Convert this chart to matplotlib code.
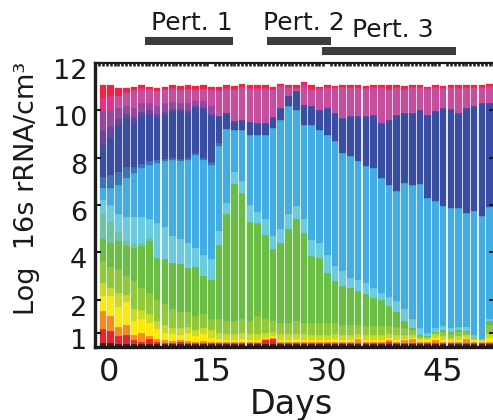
import matplotlib
matplotlib.use('Agg')
import matplotlib.pyplot as plt
import matplotlib.transforms as mtransforms
from matplotlib.ticker import MultipleLocator
import numpy as np

plt.rcParams['font.family'] = ['DejaVu Sans']

# ---------------- data ----------------
days = list(range(1, 52))   # one sample per bar

# top of each taxon layer (cumulative, Log 16s rRNA/cm^3); 0 = layer absent
top_base = [0.15,0.15,0.12,0.12,0.12,0.12,0.12,0.12,0.12,0.12,0.12,0.12,0.12,0.12,0.12,0.12,0.12,0.12,0.12,0.12,
            0.12,0.12,0.12,0.12,0.12,0.12,0.12,0.12,0.12,0.12,0.12,0.12,0.12,0.12,0.12,0.12,0.12,0.12,0.12,0.12,
            0.12,0.12,0.12,0.12,0.12,0.12,0.12,0.12,0.12,0.12,0.12]
top_red = [0.75,0.68,0.45,0.50,0.30,0.22,0.32,0.20,0.18,0.18,0.22,0.18,0.16,0.16,0.16,0.16,0.16,0.16,0.16,0.18,
           0.16,0.30,0.35,0.16,0.16,0.16,0.16,0.16,0.16,0.16,0.16,0.16,0.16,0.16,0.16,0.16,0.16,0.20,0.16,0.16,
           0.16,0.16,0.16,0.16,0.16,0.16,0.16,0.16,0.16,0.16,0.16]
top_orange = [1.52,1.30,0.85,0.95,0.50,0.60,0.45,0.35,0.28,0.25,0.28,0.25,0.22,0.25,0.22,0.20,0.22,0.20,0.20,0.22,
              0.22,0.32,0.40,0.20,0.20,0.22,0.20,0.20,0.20,0.20,0.20,0.22,0.20,0.35,0.22,0.20,0.20,0.30,0.22,0.30,
              0.35,0.22,0.20,0.30,0.22,0.20,0.22,0.35,0.22,0.20,0.22]
top_yellow = [2.15,2.15,1.70,1.90,1.10,1.20,1.00,0.75,0.60,0.55,0.50,0.60,0.45,0.55,0.40,0.35,0.30,0.30,0.35,0.30,
              0.30,0.40,0.45,0.30,0.30,0.35,0.30,0.30,0.30,0.30,0.32,0.30,0.30,0.40,0.30,0.30,0.30,0.38,0.30,0.35,
              0.40,0.30,0.28,0.40,0.30,0.28,0.30,0.40,0.30,0.28,0.40]
top_ygreen = [2.70,2.50,2.30,2.20,1.60,1.55,1.40,1.10,0.95,0.80,0.80,0.85,0.70,0.80,0.70,0.60,0.55,0.55,0.60,0.55,
              0.55,0.60,0.65,0.55,0.55,0.55,0.55,0.50,0.50,0.50,0.55,0.50,0.50,0.55,0.50,0.50,0.50,0.55,0.50,0.50,
              0.50,0.40,0.40,0.55,0.45,0.40,0.45,0.50,0.35,0.30,0.55]
top_lgreen = [3.63,3.40,3.30,3.00,2.80,2.50,2.30,2.00,1.80,1.60,1.50,1.50,1.30,1.40,1.20,1.20,1.10,1.10,1.20,1.10,
              1.30,1.20,1.10,1.00,1.00,1.10,1.00,1.00,1.00,1.00,1.00,0.95,0.95,0.95,0.90,0.90,0.90,0.90,0.85,0.80,
              0.70,0.45,0.42,0.60,0.65,0.55,0.65,0.60,0.38,0.30,0.95]
top_green = [4.55,4.40,4.47,4.26,4.19,4.26,4.47,3.77,3.70,3.56,3.49,3.35,3.40,2.98,2.85,4.33,5.60,6.90,6.50,5.30,
             5.25,4.75,4.12,4.40,5.00,5.39,4.82,3.84,3.77,3.14,2.78,2.57,2.50,2.36,2.22,2.08,2.00,1.75,1.50,1.10,
             0.80,0.50,0.45,0.65,0.72,0.62,0.72,0.68,0.40,0.30,1.10]
top_teal = [5.60,5.30,4.85,4.50,4.40,4.40,4.60,0,0,0,0,0,0,0,0,0,0,0,0,0,
            0,0,0,0,0,0,0,0,0,0,0,0,0,0,0,0,0,0,0,0,
            0,0,0,0,0,0,0,0,0,0,0]
top_cyan = [6.23,6.00,5.60,5.50,5.50,5.50,5.40,5.25,5.05,4.70,4.55,4.40,4.20,3.90,3.70,4.90,6.10,7.40,7.00,6.00,
            5.70,5.40,4.70,5.00,5.60,5.95,5.39,4.54,4.40,3.90,3.42,3.20,2.93,2.85,2.70,2.50,2.30,2.10,1.95,1.60,
            1.20,0.80,0.60,0.80,0.90,0.80,0.85,0.85,0.50,0.35,1.20]
top_sky = [6.72,6.72,6.86,7.14,7.36,7.57,7.71,7.78,7.85,7.92,7.85,7.90,8.10,7.90,7.70,8.50,9.20,9.15,9.15,8.95,
           8.95,8.95,9.25,9.60,10.20,10.00,9.40,9.40,9.18,8.97,8.69,8.20,8.06,7.85,7.64,7.57,7.14,6.86,6.58,6.93,
           6.86,6.90,6.30,6.16,5.95,5.88,5.88,5.67,5.75,5.53,5.90]
top_mblue = [7.20,7.25,7.40,7.60,7.60,7.75,7.85,7.90,7.95,8.00,7.95,8.00,8.20,8.00,7.80,8.60,0,0,0,0,
             0,0,0,0,0,0,0,0,0,0,0,0,0,0,0,0,0,0,0,0,
             0,0,0,0,0,0,0,0,0,0,0]
top_dblue = [8.55,8.83,9.40,9.68,9.47,9.75,9.82,9.68,9.82,9.96,9.96,9.89,10.10,10.05,9.75,9.75,9.90,9.55,9.60,9.50,
             9.45,9.45,9.70,10.10,10.60,10.80,10.24,10.20,10.03,10.10,9.89,9.68,9.75,9.75,9.75,9.80,9.47,9.60,9.80,9.89,
             9.89,10.03,9.82,9.96,10.10,10.05,9.89,10.10,10.17,10.31,10.31]
top_violet = [9.11,9.30,9.65,9.85,9.70,9.95,10.00,9.85,9.95,10.05,10.05,10.00,10.20,10.15,9.85,0,0,0,0,0,
              0,0,0,0,0,0,0,0,0,0,0,0,0,0,0,0,0,0,0,0,
              0,0,0,0,0,0,0,0,0,0,0]
top_purple = [9.96,10.00,10.10,10.20,10.10,10.30,10.30,10.20,10.30,10.35,10.30,10.30,10.40,10.40,10.20,0,0,0,0,0,
              0,0,0,0,0,0,0,0,0,0,0,0,0,0,0,0,0,0,0,0,
              0,0,0,0,0,0,0,0,0,0,0]
top_magenta = [0,0,10.60,10.75,10.85,10.85,10.90,10.80,10.85,10.90,10.85,10.90,10.85,10.90,10.85,10.80,10.90,10.85,10.95,10.90,
               10.90,10.90,10.85,11.00,10.95,10.90,10.95,10.85,10.90,10.95,10.95,10.95,10.95,10.95,10.90,10.95,10.95,10.85,10.95,10.85,
               10.95,10.95,10.90,10.95,10.90,10.95,10.90,10.95,10.95,10.95,11.00]
top_pink = [10.52,10.60,10.62,10.78,10.85,10.95,10.92,10.82,10.90,10.95,10.88,10.92,10.90,10.92,10.90,10.85,10.95,10.92,11.00,10.95,
            10.95,10.95,10.90,11.05,11.00,10.95,11.10,10.90,10.95,10.97,10.97,10.97,10.97,10.97,10.95,10.97,10.97,10.90,11.00,10.90,
            10.97,10.97,10.95,10.97,10.95,10.97,10.95,10.97,10.97,10.97,11.02]
top_redtop = [11.05,11.05,10.95,10.95,11.00,11.05,11.00,10.95,11.00,11.05,11.02,11.05,11.02,11.05,11.00,11.00,11.05,11.02,11.10,11.05,
              11.05,11.05,11.00,11.10,11.05,11.05,11.20,11.05,11.00,11.05,11.02,11.05,11.05,11.05,11.02,11.05,11.05,11.05,11.08,11.02,
              11.05,11.05,11.00,11.05,11.02,11.05,11.05,11.05,11.05,11.05,11.10]

layer_tops = [top_base, top_red, top_orange, top_yellow, top_ygreen, top_lgreen, top_green, top_teal,
              top_cyan, top_sky, top_mblue, top_dblue, top_violet, top_purple, top_magenta, top_pink, top_redtop]
layer_colors = ['#3d1f14', '#e3262b', '#f58a1f', '#fde910', '#c9da2a', '#92c83e', '#6bbd45', '#6cc4a4',
                '#6dcbe0', '#43ade2', '#3b73b9', '#3a4ea1', '#64479d', '#92489c', '#c4509d', '#e2338a', '#ee2447']

pert_labels = ['Pert. 1', 'Pert. 2', 'Pert. 3']
pert_start = [6.4, 22.2, 29.3]
pert_end = [17.8, 30.5, 46.7]
pert_label_x = [12.5, 27.0, 38.5]

# ---------------- figure ----------------
fig = plt.figure(figsize=(4.93, 4.2), dpi=100)
ax = fig.add_axes([0.1937, 0.1738, 1.004 - 0.1937, 0.85 - 0.1738])

T = np.maximum.accumulate(np.array(layer_tops, dtype=float), axis=0)
B = np.vstack([np.zeros(T.shape[1]), T[:-1]])
H = T - B
for h, b, c in zip(H, B, layer_colors):
    ax.bar(days, h, bottom=b, width=0.86, color=c, edgecolor=c, linewidth=0.2)

ax.set_xlim(0.03, 51.7)
ax.set_ylim(0, 12)
ax.set_xticks([1.75, 15, 30, 45], ['0', '15', '30', '45'])
ax.set_yticks([0.6, 2, 4, 6, 8, 10, 12], ['1', '2', '4', '6', '8', '10', '12'])
ax.tick_params(axis='x', which='major', length=0, pad=7, labelsize=23, colors='#1a1a1a')
ax.tick_params(axis='y', which='major', direction='in', length=4, width=1.5,
               left=True, right=True, labelsize=19.5, pad=6, colors='#1a1a1a')
ax.xaxis.set_minor_locator(MultipleLocator(0.5))
ax.tick_params(axis='x', which='minor', top=True, bottom=False, direction='in',
               length=2.2, width=1.8, color='#1a1a1a')

off = mtransforms.ScaledTranslation(0, -6 / 100, fig.dpi_scale_trans)
for lab in ax.get_yticklabels():
    lab.set_transform(lab.get_transform() + off)

for side, lw in [('left', 2.4), ('bottom', 2.4), ('top', 1.6), ('right', 2.4)]:
    ax.spines[side].set_linewidth(lw)
    ax.spines[side].set_color('#1a1a1a')

fig.text(27 / 493, 1 - 188 / 420, 'Log  16s rRNA/cm\u00b3', rotation=90,
         ha='center', va='center', fontsize=19.5, color='#1a1a1a')
fig.text(291 / 493, 6 / 420, 'Days', ha='center', va='baseline', fontsize=24, color='#1a1a1a')

trans = mtransforms.blended_transform_factory(ax.transData, fig.transFigure)
bar_y = [1 - 41 / 420, 1 - 41 / 420, 1 - 50.5 / 420]
lab_y = [1 - 23.5 / 420, 1 - 23.5 / 420, 1 - 30 / 420]
for name, s, e, lx, by, ly in zip(pert_labels, pert_start, pert_end, pert_label_x, bar_y, lab_y):
    ax.plot([s, e], [by, by], transform=trans, color='#3c3c3c', lw=5.8,
            solid_capstyle='butt', clip_on=False)
    ax.text(lx, ly, name, transform=trans, ha='center', va='center', fontsize=18, color='#1a1a1a')

fig.savefig('out.png', dpi=100)
